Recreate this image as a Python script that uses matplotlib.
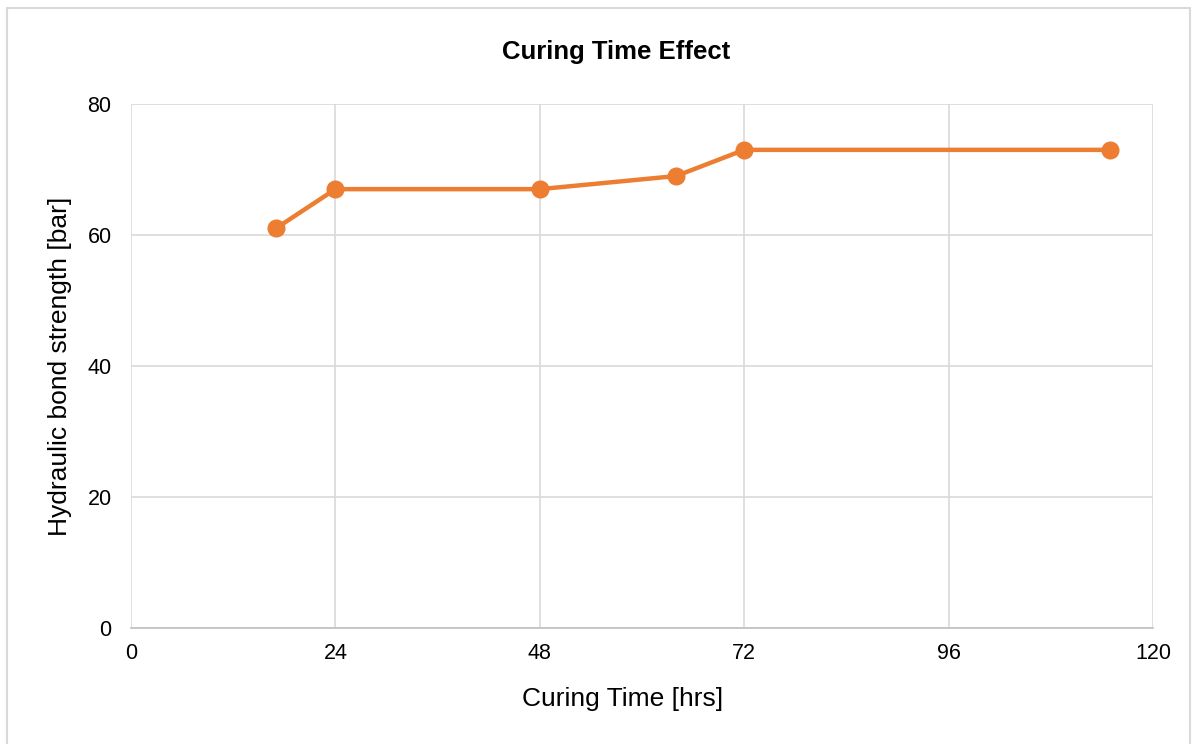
import matplotlib.pyplot as plt
from matplotlib.patches import Rectangle

# curing time [hrs] and hydraulic bond strength [bar]
curing_time = [17, 24, 48, 64, 72, 115]
bond_strength = [61, 67, 67, 69, 73, 73]
x_ticks = [0, 24, 48, 72, 96, 120]
y_ticks = [0, 20, 40, 60, 80]

plt.rcParams['font.family'] = ['Liberation Sans', 'DejaVu Sans']

fig = plt.figure(figsize=(11.98, 7.44), dpi=100)
fig.patches.append(Rectangle((7 / 1198, -0.01), 1183 / 1198, 1 - 8 / 744 + 0.01,
                             transform=fig.transFigure, fill=False,
                             edgecolor='#d9d9d9', linewidth=1.5))

ax = fig.add_axes([131 / 1198, 1 - 628 / 744, 1022 / 1198, 524 / 744])
ax.plot(curing_time, bond_strength, color='#ED7D31', linewidth=3.2,
        marker='o', markersize=12, zorder=3, clip_on=False)

ax.set_xlim(0, 120)
ax.set_ylim(0, 80)
ax.set_xticks(x_ticks)
ax.set_yticks(y_ticks)
ax.grid(True, color='#d9d9d9', linewidth=1.2)
for s in ax.spines.values():
    s.set_visible(False)
ax.spines['bottom'].set_visible(True)
ax.spines['bottom'].set_color('#bfbfbf')
ax.spines['bottom'].set_linewidth(1.2)
ax.tick_params(length=0, labelsize=15.5, colors='#000000')
ax.tick_params(axis='x', pad=11)
ax.tick_params(axis='y', pad=14)

ax.set_xlabel('Curing Time [hrs]', fontsize=19)
ax.xaxis.set_label_coords(0.4805, -0.112)
ax.set_ylabel('Hydraulic bond strength [bar]', fontsize=19, labelpad=11)
fig.text(616 / 1198, 1 - 52 / 744, 'Curing Time Effect', fontsize=18.5,
         fontweight='bold', ha='center', va='center')

fig.savefig('out.png', dpi=100)
